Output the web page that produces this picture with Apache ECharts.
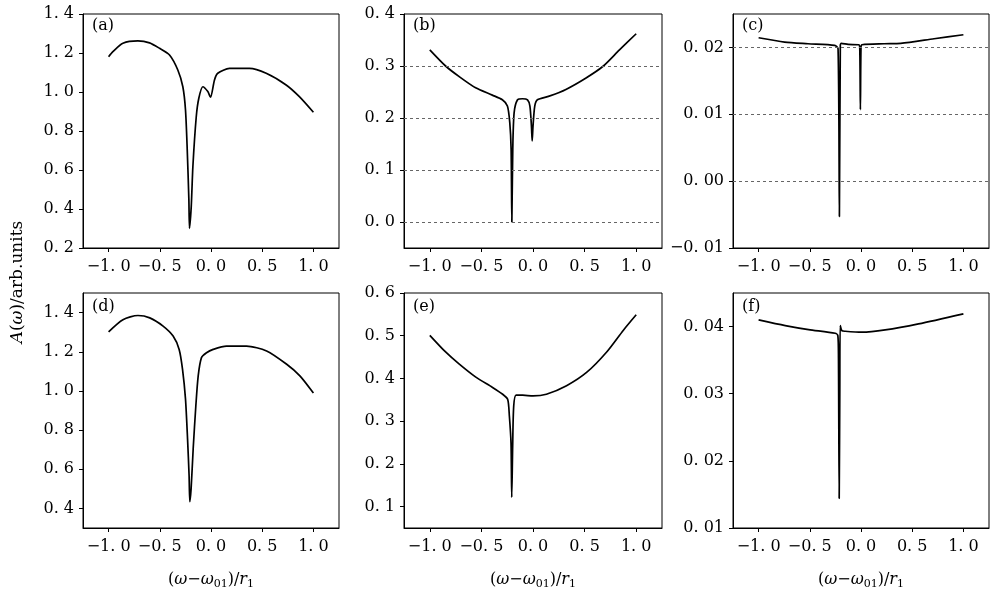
<!DOCTYPE html>
<html>
<head>
<meta charset="utf-8">
<script src="https://cdn.jsdelivr.net/npm/echarts@6/dist/echarts.min.js"></script>
<style>
html, body { margin: 0; padding: 0; background: #fff; }
#js_chart { width: 991px; height: 593px; }
</style>
</head>
<body>
<div id="js_chart"></div>
<script>
// 横轴 (ω-ω01)/r1 的刻度
var xTicks = [-1.0, -0.5, 0.0, 0.5, 1.0];

// (a)
var xA = [-1.0, -0.958, -0.86, -0.714, -0.6, -0.502, -0.405, -0.324, -0.275, -0.249, -0.232, -0.216, -0.21, -0.193, -0.177, -0.144, -0.119, -0.08, -0.031, -0.005, 0.034, 0.066, 0.18, 0.376, 0.539, 0.734, 0.863, 1.0];
var yA = [1.181, 1.207, 1.25, 1.262, 1.252, 1.224, 1.19, 1.113, 1.027, 0.908, 0.703, 0.446, 0.301, 0.412, 0.617, 0.873, 0.968, 1.027, 1.002, 0.973, 1.062, 1.096, 1.121, 1.121, 1.096, 1.036, 0.976, 0.896];
var yTicksA = [0.2, 0.4, 0.6, 0.8, 1.0, 1.2, 1.4];

// (b)
var xB = [-1.0, -0.847, -0.718, -0.556, -0.394, -0.297, -0.248, -0.225, -0.212, -0.205, -0.196, -0.183, -0.15, -0.102, -0.053, -0.03, -0.015, -0.008, 0.0, 0.017, 0.043, 0.157, 0.319, 0.514, 0.676, 0.838, 1.0];
var yB = [0.331, 0.300, 0.280, 0.258, 0.244, 0.235, 0.223, 0.191, 0.140, 0.0, 0.140, 0.210, 0.235, 0.237, 0.235, 0.223, 0.184, 0.156, 0.184, 0.223, 0.235, 0.242, 0.255, 0.277, 0.299, 0.331, 0.362];
var yTicksB = [0.0, 0.1, 0.2, 0.3, 0.4];
var gridB = [0.0, 0.1, 0.2, 0.3];

// (c)
var xC = [-1.0, -0.746, -0.518, -0.257, -0.224, -0.211, -0.202, -0.192, -0.126, -0.022, -0.012, -0.006, 0.0, 0.01, 0.225, 0.388, 0.714, 1.0];
var yC = [0.02145, 0.0208, 0.02055, 0.0203, 0.0198, -0.0053, 0.0203, 0.0206, 0.02045, 0.0204, 0.0199, 0.0107, 0.02, 0.0204, 0.02055, 0.0206, 0.0213, 0.0219];
var yTicksC = [-0.01, 0.0, 0.01, 0.02];
var gridC = [0.0, 0.01, 0.02];

// (d)
var xD = [-1.0, -0.86, -0.713, -0.598, -0.468, -0.37, -0.311, -0.278, -0.249, -0.229, -0.214, -0.207, -0.194, -0.174, -0.148, -0.125, -0.093, -0.044, 0.021, 0.151, 0.347, 0.543, 0.739, 0.868, 1.0];
var yD = [1.302, 1.364, 1.385, 1.373, 1.331, 1.28, 1.212, 1.11, 0.958, 0.755, 0.569, 0.434, 0.502, 0.705, 0.924, 1.077, 1.17, 1.195, 1.212, 1.229, 1.229, 1.204, 1.136, 1.077, 0.989];
var yTicksD = [0.4, 0.6, 0.8, 1.0, 1.2, 1.4];

// (e)
var xE = [-1.0, -0.847, -0.717, -0.554, -0.392, -0.294, -0.245, -0.229, -0.213, -0.206, -0.197, -0.187, -0.164, -0.1, 0.0, 0.13, 0.325, 0.519, 0.714, 0.876, 1.0];
var yE = [0.501, 0.462, 0.434, 0.403, 0.379, 0.363, 0.351, 0.312, 0.249, 0.122, 0.242, 0.335, 0.361, 0.361, 0.359, 0.363, 0.383, 0.414, 0.462, 0.513, 0.549];
var yTicksE = [0.1, 0.2, 0.3, 0.4, 0.5, 0.6];

// (f)
var xF = [-1.0, -0.74, -0.512, -0.252, -0.226, -0.22, -0.213, -0.207, -0.203, -0.187, -0.154, 0.008, 0.236, 0.561, 1.0];
var yF = [0.041, 0.04015, 0.03955, 0.039, 0.03866, 0.0354, 0.0144, 0.0305, 0.04015, 0.0394, 0.0393, 0.03916, 0.0395, 0.0404, 0.0419];
var yTicksF = [0.01, 0.02, 0.03, 0.04];

var font = '"DejaVu Serif", "Liberation Serif", serif';

function fmt(d) {
    return function (v) {
        return v.toFixed(d).replace('.', '. ').replace('-', '\u2212');
    };
}

function pairs(xs, ys) {
    return xs.map(function (x, i) { return [x, ys[i]]; });
}

var panels = [
    {tag: '(a)', xs: xA, ys: yA, ticks: yTicksA, min: 0.2, max: 1.4, dec: 1, lines: [], rect: [83, 14, 256, 234], bottom: false},
    {tag: '(b)', xs: xB, ys: yB, ticks: yTicksB, min: -0.05, max: 0.4, dec: 1, lines: gridB, rect: [404, 14, 258, 234], bottom: false},
    {tag: '(c)', xs: xC, ys: yC, ticks: yTicksC, min: -0.01, max: 0.025, dec: 2, lines: gridC, rect: [733, 14, 256, 234], bottom: false},
    {tag: '(d)', xs: xD, ys: yD, ticks: yTicksD, min: 0.3, max: 1.5, dec: 1, lines: [], rect: [83, 293, 256, 235], bottom: true},
    {tag: '(e)', xs: xE, ys: yE, ticks: yTicksE, min: 0.05, max: 0.6, dec: 1, lines: [], rect: [404, 293, 258, 235], bottom: true},
    {tag: '(f)', xs: xF, ys: yF, ticks: yTicksF, min: 0.01, max: 0.045, dec: 2, lines: [], rect: [733, 293, 256, 235], bottom: true}
];

var xTitle = '({i|\u03c9}\u2212{i|\u03c9}{s|01})/{i|r}{s|1}';

var grids = [], xAxes = [], yAxes = [], series = [], graphics = [];

panels.forEach(function (p, i) {
    grids.push({
        left: p.rect[0], top: p.rect[1], width: p.rect[2], height: p.rect[3],
        show: true, borderColor: '#000', borderWidth: 1, backgroundColor: 'transparent'
    });
    xAxes.push({
        type: 'value', gridIndex: i, min: -1.25, max: 1.25,
        axisLine: {show: true, onZero: false, lineStyle: {color: '#000', width: 1}},
        axisTick: {show: true, length: 4, customValues: xTicks, lineStyle: {color: '#000'}},
        axisLabel: {customValues: xTicks, formatter: fmt(1), color: '#000', fontFamily: font, fontSize: 16, margin: 11},
        splitLine: {show: false},
        name: p.bottom ? xTitle : '',
        nameLocation: 'middle', nameGap: 42,
        nameTextStyle: {
            color: '#000', fontFamily: font, fontSize: 16,
            rich: {
                i: {fontStyle: 'italic', fontFamily: font, fontSize: 16, color: '#000'},
                s: {fontFamily: font, fontSize: 11, color: '#000', verticalAlign: 'bottom', padding: [9, 0, 0, 0]}
            }
        }
    });
    yAxes.push({
        type: 'value', gridIndex: i, min: p.min, max: p.max,
        axisLine: {show: true, onZero: false, lineStyle: {color: '#000', width: 1}},
        axisTick: {show: true, length: 4, customValues: p.ticks, lineStyle: {color: '#000'}},
        axisLabel: {customValues: p.ticks, formatter: fmt(p.dec), color: '#000', fontFamily: font, fontSize: 16, margin: 9},
        splitLine: {show: false}
    });
    series.push({
        type: 'line', xAxisIndex: i, yAxisIndex: i,
        data: pairs(p.xs, p.ys),
        showSymbol: false, symbol: 'none',
        smooth: 0.25,
        lineStyle: {color: '#000', width: 1.7},
        markLine: p.lines.length ? {
            silent: true, symbol: 'none', label: {show: false},
            lineStyle: {color: '#666', width: 1, type: [3, 3]},
            data: p.lines.map(function (v) { return {yAxis: v}; })
        } : undefined
    });
    graphics.push({
        type: 'text', left: p.rect[0] + 9, top: p.rect[1] + (p.bottom ? 6 : 4),
        style: {text: p.tag, font: '16px ' + font, fill: '#000'}
    });
});

graphics.push({
    type: 'text', x: 18, y: 282, rotation: Math.PI / 2,
    style: {
        text: '{i|A}({i|\u03c9})/arb.units',
        align: 'center', verticalAlign: 'middle',
        font: '17px ' + font, fill: '#000',
        rich: {i: {fontStyle: 'italic', font: 'italic 17px ' + font, fill: '#000'}}
    }
});

var chart = echarts.init(document.getElementById('js_chart'));
chart.setOption({
    animation: false,
    backgroundColor: '#fff',
    grid: grids,
    xAxis: xAxes,
    yAxis: yAxes,
    series: series,
    graphic: graphics
});
</script>
</body>
</html>
